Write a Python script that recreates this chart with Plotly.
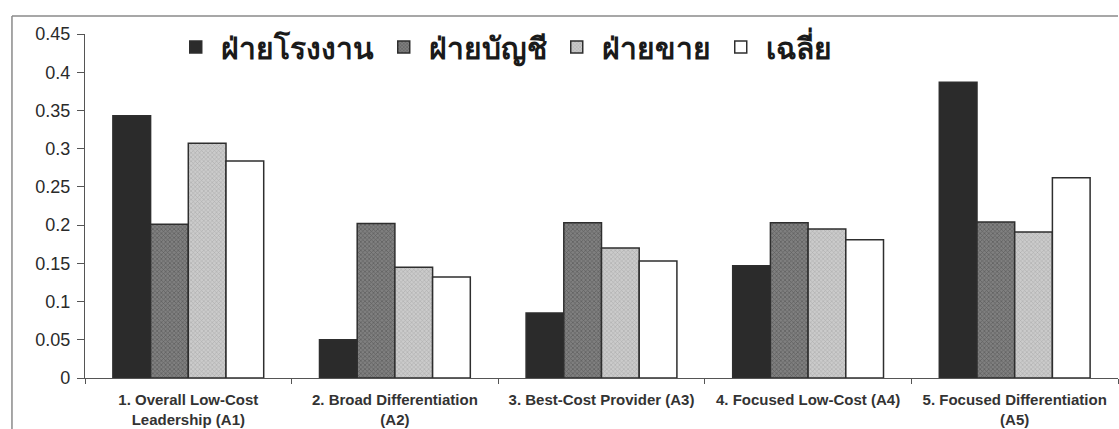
import plotly.graph_objects as go

categories = [
    "1. Overall Low-Cost<br>Leadership (A1)",
    "2. Broad Differentiation<br>(A2)",
    "3. Best-Cost Provider (A3)",
    "4. Focused Low-Cost (A4)",
    "5. Focused Differentiation<br>(A5)",
]
series_names = ["ฝ่ายโรงงาน", "ฝ่ายบัญชี", "ฝ่ายขาย", "เฉลี่ย"]
factory = [0.343, 0.050, 0.085, 0.147, 0.387]
accounting = [0.201, 0.202, 0.203, 0.203, 0.204]
sales = [0.307, 0.145, 0.170, 0.195, 0.191]
average = [0.284, 0.132, 0.153, 0.181, 0.262]
y_ticks = [0, 0.05, 0.1, 0.15, 0.2, 0.25, 0.3, 0.35, 0.4, 0.45]
y_tick_text = ["0", "0.05", "0.1", "0.15", "0.2", "0.25", "0.3", "0.35", "0.4", "0.45"]

outline = dict(color="#2e2e2e", width=1.5)

fig = go.Figure()
fig.add_trace(go.Bar(name=series_names[0], x=categories, y=factory,
                     marker=dict(color="#2b2b2b", line=outline)))
fig.add_trace(go.Bar(name=series_names[1], x=categories, y=accounting,
                     marker=dict(color="#6c6c6c", line=outline,
                                 pattern=dict(shape="x", size=3, solidity=0.4,
                                              fgcolor="#3a3a3a", bgcolor="#808080",
                                              fillmode="overlay"))))
fig.add_trace(go.Bar(name=series_names[2], x=categories, y=sales,
                     marker=dict(color="#b8b8b8", line=outline,
                                 pattern=dict(shape="x", size=3, solidity=0.35,
                                              fgcolor="#8c8c8c", bgcolor="#cbcbcb",
                                              fillmode="overlay"))))
fig.add_trace(go.Bar(name=series_names[3], x=categories, y=average,
                     marker=dict(color="#ffffff", line=outline)))

# outer frame of the chart area (left and top edges)
frame = dict(color="#8a8a8a", width=1.5)
fig.add_shape(type="line", xref="paper", yref="paper",
              x0=-0.0707, x1=1.0, y0=1.052, y1=1.052, line=frame)
fig.add_shape(type="line", xref="paper", yref="paper",
              x0=-0.0707, x1=-0.0707, y0=1.052, y1=-0.15, line=frame)

fig.update_layout(
    width=1119, height=429,
    margin=dict(l=85, r=1, t=34, b=51),
    paper_bgcolor="white", plot_bgcolor="white",
    barmode="group", bargap=0.27, bargroupgap=0,
    font=dict(family="Arial", color="#2a2a2a"),
    legend=dict(orientation="h", x=0.083, y=0.962, xanchor="left", yanchor="middle",
                font=dict(size=30, family="Arial, sans-serif",
                          color="#1a1a1a", weight="bold"),
                bgcolor="rgba(0,0,0,0)", itemwidth=40, traceorder="normal"),
    xaxis=dict(showline=True, linecolor="#555555", linewidth=1.2,
               ticks="outside", tickson="boundaries", ticklen=5, tickcolor="#555555",
               tickfont=dict(size=15, family="Arial", weight="bold", color="#333333"),
               ticklabelstandoff=8,
               showgrid=False, tickangle=0),
    yaxis=dict(range=[0, 0.45], tickvals=y_ticks, ticktext=y_tick_text,
               showline=True, linecolor="#555555", linewidth=1.2,
               ticks="outside", ticklen=7, tickcolor="#555555",
               tickfont=dict(size=18, family="Arial", color="#2a2a2a"),
               ticklabelstandoff=3,
               showgrid=False, zeroline=False),
)

fig.write_html("out.html")
